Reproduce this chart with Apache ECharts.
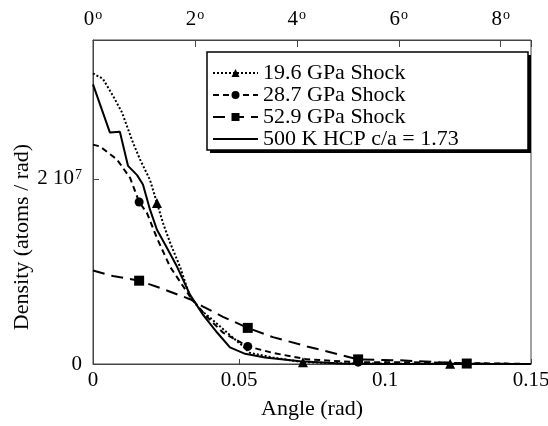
<!DOCTYPE html>
<html>
<head>
<meta charset="utf-8">
<script src="https://cdn.jsdelivr.net/npm/echarts@6/dist/echarts.min.js"></script>
<style>html,body{margin:0;padding:0;background:#fff}#c{width:548px;height:426px}</style>
</head>
<body>
<div id="c"></div>
<script>
// Angle (rad) and density (units of 1e7 atoms/rad)
const seriesNames = ['19.6 GPa Shock', '28.7 GPa Shock', '52.9 GPa Shock', '500 K HCP c/a = 1.73'];

const shock196X = [0, 0.0034, 0.0068, 0.0099, 0.0137, 0.0161, 0.0195, 0.0219, 0.024, 0.0264, 0.0298, 0.0332, 0.0366, 0.0401, 0.0459, 0.0514, 0.0538, 0.0616, 0.0719, 0.088, 0.1223, 0.15];
const shock196Y = [3.14, 3.08, 2.90, 2.72, 2.39, 2.21, 1.99, 1.74, 1.52, 1.31, 1.05, 0.73, 0.59, 0.50, 0.34, 0.19, 0.12, 0.07, 0.02, 0.005, 0.002, 0];
const shock196Marks = [0.0219, 0.0719, 0.1223];

const shock287X = [0, 0.0024, 0.0082, 0.0127, 0.0158, 0.0185, 0.0219, 0.0264, 0.0332, 0.039, 0.0445, 0.053, 0.0616, 0.0733, 0.0846, 0.0908, 0.105, 0.128, 0.15];
const shock287Y = [2.37, 2.35, 2.21, 2.01, 1.75, 1.63, 1.36, 1.05, 0.73, 0.51, 0.34, 0.19, 0.12, 0.05, 0.03, 0.02, 0.02, 0.01, 0];
const shock287Marks = [0.0158, 0.053, 0.0908];

const shock529X = [0, 0.0068, 0.0158, 0.024, 0.0332, 0.0377, 0.0445, 0.053, 0.0616, 0.0733, 0.0846, 0.0908, 0.105, 0.128, 0.15];
const shock529Y = [1.01, 0.95, 0.90, 0.81, 0.70, 0.62, 0.51, 0.39, 0.29, 0.19, 0.10, 0.05, 0.04, 0.005, 0];
const shock529Marks = [0.0158, 0.053, 0.0908, 0.128];

const hcpX = [0, 0.0058, 0.0092, 0.012, 0.0151, 0.0171, 0.0195, 0.0219, 0.0247, 0.0288, 0.0332, 0.0377, 0.0425, 0.0469, 0.0521, 0.0589, 0.0709, 0.0846, 0.1, 0.15];
const hcpY = [3.02, 2.50, 2.51, 2.14, 2.04, 1.94, 1.67, 1.45, 1.29, 1.05, 0.75, 0.53, 0.34, 0.18, 0.11, 0.07, 0.03, 0.005, 0, 0];

const xTicks = [0, 0.05, 0.1, 0.15];
const degTicks = [0, 2, 4, 6, 8];

const FONT = '"Liberation Serif", "Times New Roman", serif';

function build(xs, ys, marks) {
  return xs.map((x, i) => {
    const on = marks.indexOf(x) >= 0;
    return on ? { value: [x, ys[i]] } : { value: [x, ys[i]], symbol: 'none' };
  });
}

const chart = echarts.init(document.getElementById('c'), null, { renderer: 'canvas' });
const axisColor = '#444';
const supRich = {
  n: { fontFamily: FONT, fontSize: 21, color: '#000' },
  s: { fontFamily: FONT, fontSize: 14, color: '#000', verticalAlign: 'bottom', padding: [0, 0, 8, 1] }
};

chart.setOption({
  animation: false,
  backgroundColor: '#fff',
  textStyle: { fontFamily: FONT },
  grid: { left: 93, top: 40, right: 17, bottom: 62, containLabel: false, outerBoundsMode: 'none',
    show: true, borderColor: axisColor, borderWidth: 1, backgroundColor: 'transparent' },
  graphic: [
    { type: 'rect', z: 3, shape: { x: 210, y: 55, width: 321, height: 98 }, style: { fill: '#000' } },
    { type: 'rect', z: 3, shape: { x: 207, y: 52, width: 321, height: 98 }, style: { fill: '#fff', stroke: '#000', lineWidth: 1.5 } }
  ],
  legend: {
    z: 10,
    orient: 'vertical',
    left: 212, top: 62,
    padding: 0,
    itemWidth: 45, itemHeight: 10, itemGap: 0,
    data: seriesNames,
    textStyle: { fontFamily: FONT, fontSize: 22, color: '#000', lineHeight: 20, padding: [2, 0, 0, 0] }
  },
  xAxis: [
    {
      type: 'value', position: 'bottom', min: 0, max: 0.15, interval: 0.05,
      axisLine: { show: true, lineStyle: { color: axisColor, width: 1 } },
      axisTick: { show: true, inside: true, length: 5, lineStyle: { color: axisColor } },
      splitLine: { show: false },
      axisLabel: { margin: 6, fontFamily: FONT, fontSize: 21, color: '#000',
        formatter: v => { const t = xTicks.find(k => Math.abs(k - v) < 1e-9); return t === undefined ? '' : String(t); } },
      name: 'Angle (rad)', nameLocation: 'middle', nameGap: 34,
      nameTextStyle: { fontFamily: FONT, fontSize: 22, color: '#000' }
    },
    {
      type: 'value', position: 'top', min: 0, max: 0.15 * 180 / Math.PI, interval: 2,
      axisLine: { show: true, lineStyle: { color: axisColor, width: 1 } },
      axisTick: { show: true, inside: true, length: 7, lineStyle: { color: axisColor } },
      splitLine: { show: false },
      axisLabel: { margin: 10, fontFamily: FONT, color: '#000',
        formatter: v => degTicks.indexOf(v) >= 0 ? '{n|' + v + '}{s|o}' : '',
        rich: supRich }
    }
  ],
  yAxis: [
    {
      type: 'value', min: 0, max: 3.5, interval: 2,
      axisLine: { show: true, lineStyle: { color: axisColor, width: 1 } },
      axisTick: { show: true, inside: true, length: 6, lineStyle: { color: axisColor } },
      splitLine: { show: false },
      axisLabel: { margin: 11, fontFamily: FONT, color: '#000',
        formatter: v => v === 0 ? '{n|0}' : (v === 2 ? '{n|2 10}{s|7}' : ''),
        rich: supRich },
      name: 'Density (atoms / rad)', nameLocation: 'middle', nameGap: 60, nameRotate: 90, nameMoveOverlap: false,
      nameTextStyle: { fontFamily: FONT, fontSize: 22, color: '#000', padding: [0, 70, 0, 0] }
    }
  ],
  series: [
    { name: seriesNames[0], type: 'line', xAxisIndex: 0, data: build(shock196X, shock196Y, shock196Marks),
      symbol: 'triangle', symbolSize: 10, showAllSymbol: true,
      lineStyle: { color: '#000', width: 2, type: [2, 2] }, itemStyle: { color: '#000' } },
    { name: seriesNames[1], type: 'line', xAxisIndex: 0, data: build(shock287X, shock287Y, shock287Marks),
      symbol: 'circle', symbolSize: 9, showAllSymbol: true,
      lineStyle: { color: '#000', width: 2, type: [6, 4] }, itemStyle: { color: '#000' } },
    { name: seriesNames[2], type: 'line', xAxisIndex: 0, data: build(shock529X, shock529Y, shock529Marks),
      symbol: 'rect', symbolSize: 10, showAllSymbol: true,
      lineStyle: { color: '#000', width: 2, type: [12, 7] }, itemStyle: { color: '#000' } },
    { name: seriesNames[3], type: 'line', xAxisIndex: 0, data: hcpX.map((x, i) => [x, hcpY[i]]),
      symbol: 'none', symbolSize: 0, showSymbol: false,
      lineStyle: { color: '#000', width: 2, type: 'solid' }, itemStyle: { color: '#000', opacity: 0 } }
  ]
});
</script>
</body>
</html>
